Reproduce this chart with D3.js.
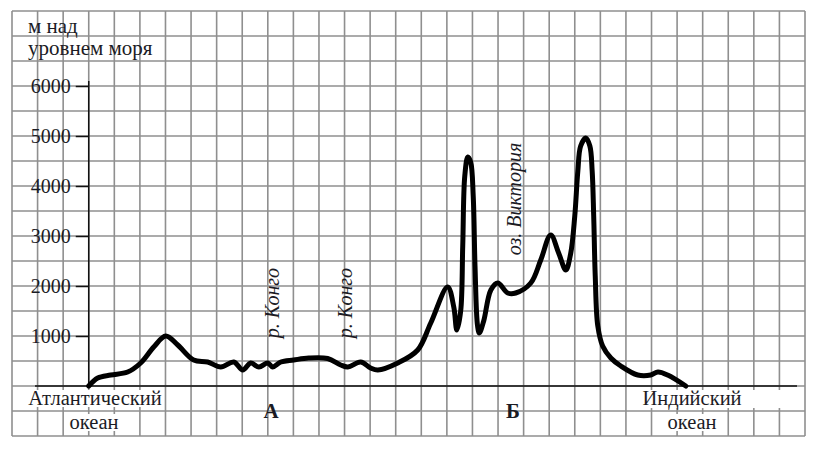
<!DOCTYPE html>
<html>
<head>
<meta charset="utf-8">
<script src="https://cdn.jsdelivr.net/npm/d3@7"></script>
<style>
  body { margin: 0; background: #fff; }
</style>
</head>
<body>
<div id="chart"></div>
<script>
// profile: distance (grid cells from the axis), height in m
var dist = [0, 0.35, 0.86, 1.52, 2.03, 2.54, 3.01, 3.48, 4.10, 4.65, 5.16, 5.67, 6.02, 6.33, 6.65, 7.00, 7.19, 7.51, 8.01, 8.6, 9.34, 9.85, 10.13, 10.63, 11.02, 11.30, 12.08, 12.86, 13.37, 14.03, 14.27, 14.39, 14.54, 14.62, 14.70, 14.82, 14.93, 15.03, 15.10, 15.20, 15.27, 15.44, 15.72, 15.99, 16.38, 16.69, 17.28, 17.67, 18.06, 18.37, 18.65, 18.84, 19.00, 19.12, 19.23, 19.43, 19.59, 19.68, 19.74, 19.80, 19.90, 20.09, 20.41, 20.80, 21.46, 21.97, 22.25, 22.63, 23.34];
var height = [0, 160, 220, 280, 460, 780, 1000, 820, 520, 480, 380, 480, 320, 460, 380, 460, 380, 480, 520, 560, 550, 420, 380, 480, 360, 320, 460, 720, 1260, 1980, 1580, 1120, 1500, 2800, 4200, 4580, 4480, 3800, 2400, 1200, 1060, 1300, 1920, 2060, 1860, 1860, 2060, 2520, 3020, 2660, 2320, 2650, 3400, 4300, 4800, 4960, 4800, 4300, 3400, 2200, 1200, 800, 560, 400, 220, 220, 280, 220, 0];
var yTicks = [1000, 2000, 3000, 4000, 5000, 6000];

var FONT = "'Liberation Serif', 'Times New Roman', serif";
var INK = "#1b1b24";

var W = 820, H = 455;
var svg = d3.select("#chart").append("svg").attr("width", W).attr("height", H);

var x = d3.scaleLinear().domain([-3, 28]).range([12, 805]);
var y = d3.scaleLinear().domain([-1000, 7500]).range([436, 11]);

//grid
var grid = svg.append("g").attr("stroke", "#8f8f8f").attr("stroke-width", 1.6);
grid.selectAll("line.v").data(d3.range(-3, 29)).enter().append("line")
  .attr("x1", d => x(d)).attr("x2", d => x(d))
  .attr("y1", y(7500)).attr("y2", y(-1000));
grid.selectAll("line.h").data(d3.range(-1000, 7501, 500)).enter().append("line")
  .attr("y1", d => y(d)).attr("y2", d => y(d))
  .attr("x1", x(-3)).attr("x2", x(28));

//baseline + y axis
svg.append("line").attr("x1", 35).attr("x2", 797).attr("y1", y(0)).attr("y2", y(0))
  .attr("stroke", "#111").attr("stroke-width", 1.5);
svg.append("line").attr("x1", x(0)).attr("x2", x(0)).attr("y1", y(6100)).attr("y2", y(0))
  .attr("stroke", "#111").attr("stroke-width", 1.5);

var yAxis = svg.append("g").attr("transform", "translate(" + x(0) + ",0)")
  .call(d3.axisLeft(y).tickValues(yTicks).tickSize(13).tickPadding(5).tickFormat(d3.format("d")));
yAxis.select(".domain").remove();
yAxis.selectAll("line").attr("stroke", "#111").attr("stroke-width", 1.5);
yAxis.selectAll("text").style("font-family", FONT).style("font-size", "20px").attr("fill", INK);

function label(txt, px, py, size) {
  return svg.append("text").attr("x", px).attr("y", py)
    .style("font-family", FONT).style("font-size", size + "px").attr("fill", INK).text(txt);
}

//axis title
label("м над", 28, 33, 21);
label("уровнем моря", 28, 55, 21);

//labels under the baseline with white boxes
function boxed(txt, cx, cy, extra) {
  var g = svg.append("g");
  var r = g.append("rect").attr("fill", "#fff");
  var t = g.append("text").attr("x", cx).attr("y", cy).attr("text-anchor", "middle")
    .style("font-family", FONT).style("font-size", "20.5px").attr("fill", INK).text(txt);
  var b = t.node().getBBox();
  r.attr("x", b.x - 1).attr("y", b.y + 3).attr("width", b.width + 2 + (extra || 0)).attr("height", b.height - 5);
}
boxed("Атлантический", 95, 405);
boxed("океан", 94, 429);
boxed("Индийский", 692, 405, 60);
boxed("океан", 692, 429);
label("А", 271, 418, 21).attr("text-anchor", "middle").style("font-weight", "bold");
label("Б", 513, 418, 21).attr("text-anchor", "middle").style("font-weight", "bold");

//rotated river / lake labels
var rot = [["р. Конго", 279, 303], ["р. Конго", 352, 303], ["оз. Виктория", 521, 199]];
svg.selectAll("text.rot").data(rot).enter().append("text")
  .attr("class", "rot")
  .attr("transform", d => "translate(" + d[1] + "," + d[2] + ") rotate(-90)")
  .attr("text-anchor", "middle").attr("fill", INK)
  .style("font-family", FONT).style("font-style", "italic").style("font-size", "20px")
  .text(d => d[0]);

//profile
var pts = dist.map((d, i) => [d, height[i]]);
var line = d3.line().x(d => x(d[0])).y(d => y(d[1])).curve(d3.curveCatmullRom.alpha(0.5));
svg.append("path").datum(pts).attr("d", line)
  .attr("fill", "none").attr("stroke", "#000").attr("stroke-width", 5)
  .attr("stroke-linejoin", "round").attr("stroke-linecap", "round");
</script>
</body>
</html>
